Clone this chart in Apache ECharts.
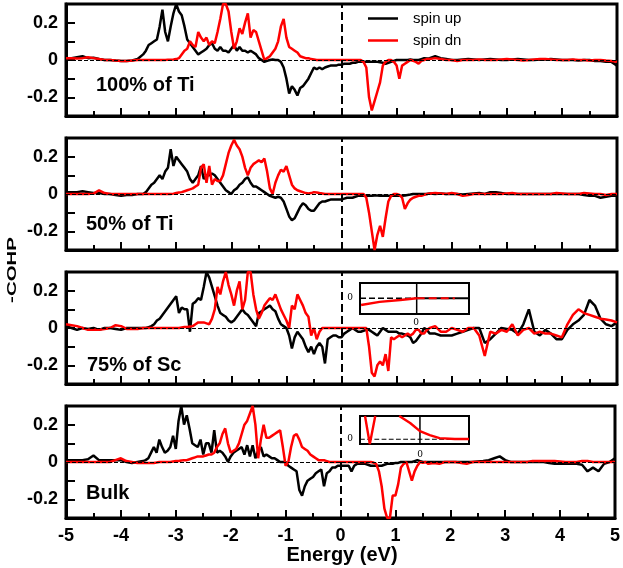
<!DOCTYPE html>
<html>
<head>
<meta charset="utf-8">
<script src="https://cdn.jsdelivr.net/npm/echarts@6/dist/echarts.min.js"></script>
<style>
  html, body { margin: 0; padding: 0; background: #fff; }
  #chart { width: 623px; height: 568px; }
</style>
</head>
<body>
<div id="chart"></div>
<script>
// energy grid (eV): 0.1 steps on the tails, 0.05 steps in the busy middle
const energy = [
  -5.0, -4.9, -4.8, -4.7, -4.6, -4.5, -4.4, -4.3, -4.2, -4.1, -4.0, -3.9, -3.8, -3.7,
  -3.6, -3.55, -3.5, -3.45, -3.4, -3.35, -3.3, -3.25, -3.2, -3.15,
  -3.1, -3.05, -3.0, -2.95, -2.9, -2.85, -2.8, -2.75, -2.7, -2.65,
  -2.6, -2.55, -2.5, -2.45, -2.4, -2.35, -2.3, -2.25, -2.2, -2.15,
  -2.1, -2.05, -2.0, -1.95, -1.9, -1.85, -1.8, -1.75, -1.7, -1.65,
  -1.6, -1.55, -1.5, -1.45, -1.4, -1.35, -1.3, -1.25, -1.2, -1.15,
  -1.1, -1.05, -1.0, -0.95, -0.9, -0.85, -0.8, -0.75, -0.7, -0.65,
  -0.6, -0.55, -0.5, -0.45, -0.4, -0.35, -0.3, -0.25, -0.2, -0.15,
  -0.1, -0.05, 0, 0.05, 0.1, 0.15, 0.2, 0.25, 0.3, 0.35,
  0.4, 0.45, 0.5, 0.55, 0.6, 0.65, 0.7, 0.75, 0.8, 0.85,
  0.9, 0.95, 1.0, 1.05, 1.1, 1.15, 1.2, 1.25, 1.3, 1.35,
  1.4, 1.45, 1.5, 1.55, 1.6,
  1.7, 1.8, 1.9, 2.0, 2.1, 2.2, 2.3, 2.4, 2.5, 2.6,
  2.7, 2.8, 2.9, 3.0, 3.1, 3.2, 3.3, 3.4, 3.5, 3.6,
  3.7, 3.8, 3.9, 4.0, 4.1, 4.2, 4.3, 4.4, 4.5, 4.6,
  4.7, 4.8, 4.9, 5.0,
];

// 100% of Ti
const upTi100 = [
  0.01, 0.01, 0.015, 0.02, 0.01, 0.012, 0.005, 0, 0, -0.003, -0.005, -0.005, -0.003, 0.005,
  0.03, 0.05, 0.08, 0.09, 0.1, 0.11, 0.18, 0.27, 0.15, 0.1,
  0.18, 0.25, 0.3, 0.26, 0.24, 0.18, 0.11, 0.09, 0.07, 0.05,
  0.03, 0.04, 0.05, 0.06, 0.08, 0.09, 0.06, 0.05, 0.07, 0.05,
  0.05, 0.04, 0.06, 0.08, 0.05, 0.07, 0.05, 0.05, 0.04, 0.05,
  0.04, 0.03, 0.01, 0, -0.01, -0.005, 0, 0.003, 0, 0,
  -0.01, -0.04, -0.1, -0.18, -0.14, -0.16, -0.19, -0.15, -0.14, -0.12,
  -0.1, -0.07, -0.04, -0.05, -0.04, -0.05, -0.04, -0.035, -0.03, -0.03,
  -0.03, -0.025, -0.025, -0.02, -0.02, -0.02, -0.015, -0.015, -0.01, -0.01,
  -0.01, -0.01, -0.008, -0.01, -0.01, -0.01, -0.012, -0.015, -0.02, -0.015,
  -0.01, -0.005, 0, 0, 0, 0, 0, 0.003, 0, 0,
  0, 0.005, 0.01, 0.008, 0.01,
  0.02, 0.01, 0.005, 0, 0, 0.003, 0.005, 0.003, 0, 0.003,
  0.005, 0.003, 0, 0, 0.003, 0.005, 0.003, 0, 0, 0.002,
  0.003, 0.005, 0.003, 0, 0, 0, -0.003, 0, 0, -0.005,
  -0.005, -0.01, -0.01, -0.03,
];
const dnTi100 = [
  0.01, 0.01, 0.008, 0.01, 0.015, 0.01, 0.005, 0, 0, -0.003, -0.005, -0.005, -0.003, 0,
  0, 0, 0, 0, 0, 0, 0, 0, 0, 0.002,
  0.002, 0.003, 0.005, 0.01, 0.03, 0.05, 0.06, 0.1, 0.08, 0.07,
  0.15, 0.12, 0.1, 0.12, 0.08, 0.1, 0.09, 0.15, 0.22, 0.3,
  0.3, 0.26, 0.15, 0.06, 0.1, 0.17, 0.14, 0.2, 0.25, 0.12,
  0.16, 0.15, 0.1, 0.05, 0, 0.01, 0.02, 0.04, 0.06, 0.1,
  0.18, 0.22, 0.12, 0.07, 0.06, 0.05, 0.04, 0.02, 0.015, 0.01,
  0.01, 0.005, 0.003, 0, 0, 0, 0, 0, 0, 0,
  0, 0, 0, 0, 0, 0, 0, 0, 0, 0,
  -0.01, -0.04, -0.2, -0.27, -0.22, -0.17, -0.12, -0.03, -0.01, 0,
  0, -0.01, -0.03, -0.1, -0.03, -0.02, -0.01, 0, -0.005, -0.01,
  -0.02, -0.005, 0, 0.005, 0.005,
  0.01, 0.005, 0, 0, -0.005, 0, 0, 0, 0.003, 0,
  0, 0, 0.003, 0.005, 0.003, 0, -0.003, 0, 0.003, 0.005,
  0.005, 0.003, 0, 0, 0, 0.003, 0, 0, -0.003, 0,
  0, -0.003, -0.005, -0.01,
];

// 50% of Ti
const upTi50 = [
  0.01, 0.01, 0.01, 0.015, 0.01, 0.005, 0.005, 0, 0, -0.005, -0.01, -0.005, -0.005, 0,
  0, 0.01, 0.03, 0.05, 0.06, 0.08, 0.1, 0.08, 0.12, 0.14,
  0.24, 0.15, 0.2, 0.18, 0.16, 0.14, 0.12, 0.08, 0.06, 0.08,
  0.1, 0.15, 0.08, 0.1, 0.1, 0.11, 0.1, 0.08, 0.06, 0.04,
  0.02, 0.01, 0, 0.02, 0.03, 0.05, 0.06, 0.08, 0.09, 0.06,
  0.04, 0.04, 0.03, 0.02, 0.01, 0, -0.01, -0.015, -0.02, -0.015,
  -0.02, -0.04, -0.08, -0.12, -0.14, -0.13, -0.1, -0.07, -0.05, -0.06,
  -0.08, -0.09, -0.09, -0.07, -0.05, -0.04, -0.04, -0.035, -0.03, -0.03,
  -0.03, -0.03, -0.03, -0.025, -0.02, -0.02, -0.02, -0.015, -0.01, -0.01,
  -0.01, -0.01, -0.01, -0.01, -0.008, -0.008, -0.01, -0.01, -0.01, -0.01,
  -0.01, -0.01, -0.01, -0.01, -0.01, -0.008, -0.005, -0.003, 0, 0,
  0, 0, 0, 0, 0.003,
  0, 0.003, 0, 0, 0, -0.003, 0, 0.003, 0.005, 0,
  0.01, 0.01, 0.005, 0, 0, 0, 0, 0, 0, 0,
  0, 0, 0, 0, 0, 0, 0, -0.005, -0.01, -0.01,
  -0.02, -0.015, -0.01, -0.01,
];
const dnTi50 = [
  0, 0, 0, 0, 0, 0.002, 0.02, 0.005, 0, 0, 0, 0, 0, 0,
  0, 0, 0, 0, 0, 0, 0, 0, 0, 0,
  0, 0.002, 0.005, 0.008, 0.01, 0.015, 0.02, 0.025, 0.03, 0.04,
  0.05, 0.14, 0.16, 0.06, 0.15, 0.05, 0.08, 0.07, 0.07, 0.1,
  0.16, 0.22, 0.26, 0.29, 0.26, 0.24, 0.2, 0.14, 0.1, 0.14,
  0.16, 0.17, 0.18, 0.17, 0.19, 0.12, 0.03, 0, 0.06, 0.1,
  0.13, 0.12, 0.15, 0.1, 0.05, 0.03, 0.02, 0.015, 0.01, 0.005,
  0.003, 0.005, 0.01, 0.008, 0.005, 0.003, 0, 0, 0, 0,
  0, 0, 0, 0, 0, 0, 0, 0, 0, 0,
  0, -0.02, -0.1, -0.2, -0.3, -0.22, -0.17, -0.23, -0.13, -0.04,
  -0.01, 0, 0, -0.005, -0.02, -0.08, -0.05, -0.03, -0.02, -0.015,
  -0.01, -0.01, -0.005, 0, 0.003,
  0.005, 0.003, 0, 0.005, 0, -0.01, -0.005, 0, 0, 0,
  0, 0, 0, 0.003, 0.005, 0, 0, 0, 0, 0,
  0, 0, 0.005, 0.003, 0, 0, 0, 0.005, 0.003, 0,
  0, -0.005, 0, 0,
];

// 75% of Sc
const upSc75 = [
  0.01, 0, -0.01, 0, -0.005, 0, -0.01, 0, 0, -0.005, -0.01, 0, 0, 0,
  0, 0, 0.005, 0.01, 0.02, 0.04, 0.05, 0.07, 0.09, 0.11,
  0.13, 0.15, 0.17, 0.08, 0.11, 0.1, 0.1, -0.02, 0.13, 0.14,
  0.16, 0.15, 0.22, 0.3, 0.27, 0.22, 0.17, 0.12, 0.08, 0.07,
  0.06, 0.04, 0.03, 0.04, 0.06, 0.08, 0.1, 0.08, 0.07, 0.05,
  0.03, 0.01, 0.08, 0.09, 0.1, 0.11, 0.12, 0.1, 0.09, 0.05,
  0.02, 0.01, 0, -0.04, -0.11, -0.05, -0.02, -0.04, -0.06, -0.1,
  -0.13, -0.1, -0.14, -0.1, -0.08, -0.1, -0.19, -0.06, -0.05, -0.04,
  -0.04, -0.05, -0.05, -0.03, -0.02, -0.01, 0, -0.01, -0.02, -0.02,
  -0.015, -0.01, -0.01, -0.02, -0.03, -0.04, -0.02, 0, -0.01, -0.02,
  -0.02, -0.02, -0.02, -0.03, -0.03, -0.035, -0.04, -0.05, -0.08, -0.07,
  -0.05, -0.03, 0, -0.01, -0.03,
  -0.03, -0.04, -0.04, -0.04, -0.03, -0.02, -0.01, 0, 0, -0.08,
  -0.06, -0.03, 0, -0.005, -0.01, -0.03, 0.02, 0.1, -0.02, -0.04,
  -0.01, -0.03, -0.06, -0.06, -0.01, 0.02, 0.04, 0.07, 0.15, 0.12,
  0.05, 0.02, 0.01, 0.03,
];
const dnSc75 = [
  0.02, 0.015, 0.01, 0, -0.01, -0.01, -0.01, -0.005, 0, 0.015, 0.01, -0.005, -0.005, -0.005,
  0, 0, 0, 0, 0, 0, 0, 0, 0, 0,
  0, 0, 0, 0, 0.003, 0.005, 0.005, 0.008, 0.01, 0.02,
  0.03, 0.03, 0.03, 0.025, 0.02, 0.05, 0.1, 0.22, 0.18, 0.25,
  0.3, 0.23, 0.18, 0.12, 0.2, 0.25, 0.1, 0.15, 0.3, 0.3,
  0.18, 0.1, 0.05, 0.08, 0.12, 0.14, 0.16, 0.15, 0.18, 0.14,
  0.1, 0.07, 0.04, 0, 0.12, 0.1, 0.18, 0.15, 0.12, 0.08,
  0.06, -0.04, 0, -0.06, -0.02, 0, 0, 0, 0, 0,
  0, 0, 0, 0, 0, 0, 0, 0, 0, 0,
  0, 0, -0.1, -0.24, -0.26, -0.2, -0.18, -0.2, -0.14, -0.23,
  -0.05, -0.06, -0.05, -0.04, -0.05, -0.04, -0.03, -0.04, -0.03, -0.01,
  -0.01, -0.03, -0.03, -0.01, 0,
  0.01, -0.02, -0.02, 0, -0.01, -0.02, 0, 0, -0.04, -0.15,
  -0.02, -0.03, -0.01, -0.02, 0.02, -0.04, -0.01, 0, -0.03, -0.02,
  -0.03, -0.03, -0.04, -0.05, 0.02, 0.07, 0.1, 0.08, 0.07, 0.06,
  0.05, 0.045, 0.04, 0.03,
];

// Bulk
const upBulk = [
  0.01, 0.01, 0.01, 0.01, 0.015, 0.035, 0.01, 0.01, 0.01, 0.01, 0.01, 0, -0.005, 0,
  0.005, 0.01, 0.02, 0.05, 0.08, 0.05, 0.12, 0.08, 0.05, 0.06,
  0.08, 0.14, 0.07, 0.22, 0.3, 0.2, 0.25, 0.18, 0.1, 0.09,
  0.08, 0.12, 0.04, 0.1, 0.1, 0.05, 0.17, 0.05, 0.06, 0.05,
  0.03, 0, 0.03, 0.05, 0.06, 0.07, 0.08, 0.04, 0.09, 0.03,
  0.09, 0.02, 0.06, 0.08, 0.03, 0.04, 0.03, 0.02, 0.02, 0.01,
  0, 0, 0, -0.02, -0.03, -0.04, -0.05, -0.15, -0.18, -0.13,
  -0.1, -0.09, -0.08, -0.06, -0.05, -0.04, -0.13, -0.06, -0.05, -0.03,
  -0.03, -0.02, -0.02, -0.02, -0.02, -0.02, -0.05, -0.02, -0.01, -0.01,
  -0.01, -0.01, -0.015, -0.02, -0.02, -0.02, -0.02, -0.02, -0.015, -0.01,
  -0.01, -0.01, -0.005, -0.005, 0, 0, 0, 0, 0, 0.005,
  0.01, 0.005, 0, 0, 0,
  0, 0, 0, 0, 0, 0, 0, 0, 0.003, 0.005,
  0.01, 0.02, 0.03, 0.01, 0, 0, 0, 0, 0, 0,
  0, -0.005, -0.01, -0.01, -0.01, -0.01, -0.01, -0.015, -0.05, -0.03,
  -0.05, -0.01, 0, 0.02,
];
const dnBulk = [
  0, 0, 0, 0, 0, 0, 0, 0, 0, 0.01, 0.02, 0.005, 0, -0.005,
  -0.005, -0.005, -0.005, -0.005, -0.005, -0.003, 0, 0, 0, 0,
  0, 0.003, 0.005, 0.005, 0.008, 0.01, 0.01, 0.015, 0.02, 0.025,
  0.03, 0.03, 0.03, 0.035, 0.04, 0.04, 0.05, 0.08, 0.1, 0.15,
  0.18, 0.1, 0.05, 0.06, 0.07, 0.1, 0.15, 0.2, 0.22, 0.26,
  0.3, 0.2, 0.02, 0.12, 0.2, 0.13, 0.13, 0.14, 0.15, 0.16,
  0.17, 0.08, -0.02, 0, 0.08, 0.14, 0.15, 0.12, 0.08, 0.07,
  0.06, 0.04, 0.03, 0.02, 0.01, 0.01, 0.01, 0.005, 0, 0,
  0, 0, 0, 0, 0, 0, 0, 0, 0, 0,
  0, 0, 0, 0, -0.003, -0.01, -0.05, -0.13, -0.25, -0.3,
  -0.3, -0.18, -0.18, -0.12, -0.03, -0.01, 0, -0.05, -0.1, -0.05,
  -0.02, 0, -0.005, 0, -0.01,
  -0.005, -0.01, 0, 0, 0, -0.005, -0.01, 0, 0, 0,
  0, 0, 0, 0, 0, 0, 0, 0, 0.005, 0.005,
  0.005, 0.005, 0.005, 0.003, 0, 0, 0, 0.005, 0.005, 0,
  0, 0, 0, 0,
];

// inset sketches (unit box coordinates)
const insetScRed = [[0.01, 0.29], [0.18, 0.39], [0.37, 0.45], [0.52, 0.506]];
const insetScRedDash = [[0.52, 0.506], [0.87, 0.506]];
const insetScZeroDash = [[0, 0.506], [0.52, 0.506]];
const insetScZero = [[0.52, 0.506], [1, 0.506]];
const insetScCut = [[0.52, 0], [0.52, 1]];
const insetBulkRedV = [[0.046, 1], [0.09, 0], [0.14, 1]];
const insetBulkRed = [[0.36, 1], [0.46, 0.75], [0.55, 0.46], [0.64, 0.32], [0.73, 0.21], [0.87, 0.18], [1, 0.18]];
const insetBulkZero = [[0, 0.17], [1, 0.17]];
const insetBulkCut = [[0.55, 0], [0.55, 1]];

const panelLabels = ['100% of Ti', '50% of Ti', '75% of Sc', 'Bulk'];
const yLabels = [-0.2, 0, 0.2];
const yTicks = [-0.2, -0.1, 0, 0.1, 0.2];

const panels = [
  { label: panelLabels[0], up: upTi100, dn: dnTi100, top: 4, lx: 96, ly: 85 },
  { label: panelLabels[1], up: upTi50, dn: dnTi50, top: 138, lx: 86, ly: 224 },
  { label: panelLabels[2], up: upSc75, dn: dnSc75, top: 272, lx: 87, ly: 365 },
  { label: panelLabels[3], up: upBulk, dn: dnBulk, top: 406, lx: 86, ly: 493 },
];

const FONT = '"Liberation Sans", Arial, sans-serif';
const pairs = (vals) => energy.map((e, i) => [e, vals[i]]);
const bare = {
  axisLine: { show: false }, axisTick: { show: false }, axisLabel: { show: false },
  splitLine: { show: false }, minorTick: { show: false },
};

const grid = [];
const xAxis = [];
const yAxis = [];
const series = [];
const graphic = [];

panels.forEach((p, i) => {
  grid.push({
    left: 66, right: 6, top: p.top, height: 112,
    show: true, borderColor: '#000', borderWidth: 3, backgroundColor: 'transparent',
  });
  xAxis.push({
    type: 'value', gridIndex: i, min: -5, max: 5, interval: 1, position: 'bottom',
    axisLine: { show: true, onZero: false, lineStyle: { color: '#000', width: 3 } },
    axisTick: { show: true, inside: true, length: 8, lineStyle: { color: '#000', width: 2 } },
    minorTick: { show: true, splitNumber: 2, length: 5, lineStyle: { color: '#000', width: 2 } },
    splitLine: { show: false },
    axisLabel: {
      show: i === 3, color: '#000', fontSize: 18, fontWeight: 'bold', fontFamily: FONT, margin: 9,
    },
  });
  yAxis.push({
    type: 'value', gridIndex: i, min: -0.3, max: 0.3, position: 'left',
    axisLine: { show: true, onZero: false, lineStyle: { color: '#000', width: 3 } },
    axisTick: {
      show: true, inside: true, length: 9, customValues: yTicks,
      lineStyle: { color: '#000', width: 2 },
    },
    splitLine: { show: false },
    axisLabel: {
      show: true, customValues: yLabels, color: '#000', fontSize: 18, fontWeight: 'bold',
      fontFamily: FONT, margin: 8,
      formatter: (v) => (Math.abs(v) < 1e-9 ? '0' : v.toFixed(1)),
    },
  });

  series.push({
    name: 'spin up', type: 'line', xAxisIndex: i, yAxisIndex: i,
    data: pairs(p.up), symbol: 'none', color: '#000',
    lineStyle: { color: '#000', width: 2.5 },
    markLine: {
      silent: true, symbol: ['none', 'none'], label: { show: false }, animation: false,
      data: [
        { yAxis: 0, lineStyle: { color: '#000', width: 1, type: 'dashed' } },
        { xAxis: 0, lineStyle: { color: '#000', width: 2, type: 'dashed' } },
      ],
    },
  });
  series.push({
    name: 'spin dn', type: 'line', xAxisIndex: i, yAxisIndex: i,
    data: pairs(p.dn), symbol: 'none', color: '#ff0000',
    lineStyle: { color: '#ff0000', width: 2.5 },
  });

  graphic.push({
    type: 'text', x: p.lx, y: p.ly, z: 10,
    style: {
      text: p.label, fill: '#000', font: 'bold 20px ' + FONT,
      textAlign: 'left', textVerticalAlign: 'middle', align: 'left', verticalAlign: 'middle',
    },
  });
});

// insets
const insets = [
  { left: 360, top: 283, width: 109, height: 31 },
  { left: 360, top: 416, width: 109, height: 28 },
];
insets.forEach((b, k) => {
  grid.push({ ...b, show: true, borderColor: '#000', borderWidth: 2, backgroundColor: '#fff' });
  xAxis.push({ type: 'value', gridIndex: 4 + k, min: 0, max: 1, ...bare });
  yAxis.push({ type: 'value', gridIndex: 4 + k, min: 0, max: 1, ...bare });
});
const insetLine = (data, k, color, width, type) => ({
  name: 'inset', type: 'line', xAxisIndex: 4 + k, yAxisIndex: 4 + k, data, symbol: 'none',
  lineStyle: { color, width, type }, color,
});
series.push(
  insetLine(insetScZeroDash, 0, '#000', 1.5, 'dashed'),
  insetLine(insetScZero, 0, '#000', 2, 'solid'),
  insetLine(insetScCut, 0, '#000', 1.5, 'solid'),
  insetLine(insetScRed, 0, '#ff0000', 2.4, 'solid'),
  insetLine(insetScRedDash, 0, '#ff0000', 2, 'dashed'),
  insetLine(insetBulkZero, 1, '#000', 1.2, 'dashed'),
  insetLine(insetBulkCut, 1, '#000', 1.5, 'solid'),
  insetLine(insetBulkRedV, 1, '#ff0000', 2.4, 'solid'),
  insetLine(insetBulkRed, 1, '#ff0000', 2.4, 'solid'),
);

const smallText = (text, x, y) => ({
  type: 'text', x, y, z: 10,
  style: {
    text, fill: '#000', font: '9px "DejaVu Serif", serif',
    textAlign: 'center', textVerticalAlign: 'middle', align: 'center', verticalAlign: 'middle',
  },
});
graphic.push(
  smallText('0', 350, 298), smallText('0', 416, 323),
  smallText('0', 350, 439), smallText('0', 420, 455),
  {
    type: 'text', x: 12, y: 270, z: 10, rotation: Math.PI / 2, scaleX: 1.57,
    style: {
      text: '-COHP', fill: '#000', font: 'bold 13px ' + FONT,
      textAlign: 'center', textVerticalAlign: 'middle', align: 'center', verticalAlign: 'middle',
    },
  },
  {
    type: 'text', x: 342, y: 555, z: 10,
    style: {
      text: 'Energy (eV)', fill: '#000', font: 'bold 20px ' + FONT,
      textAlign: 'center', textVerticalAlign: 'middle', align: 'center', verticalAlign: 'middle',
    },
  },
);

const chart = echarts.init(document.getElementById('chart'), null, { renderer: 'canvas' });
chart.setOption({
  animation: false,
  backgroundColor: '#fff',
  legend: {
    data: ['spin up', 'spin dn'], orient: 'vertical', left: 368, top: 10, padding: 0,
    icon: 'rect', itemWidth: 30, itemHeight: 2.5, itemGap: 5, selectedMode: false,
    textStyle: { color: '#000', fontSize: 15, lineHeight: 17, fontFamily: FONT, padding: [0, 0, 0, 10] },
  },
  grid, xAxis, yAxis, series, graphic,
});
</script>
</body>
</html>
